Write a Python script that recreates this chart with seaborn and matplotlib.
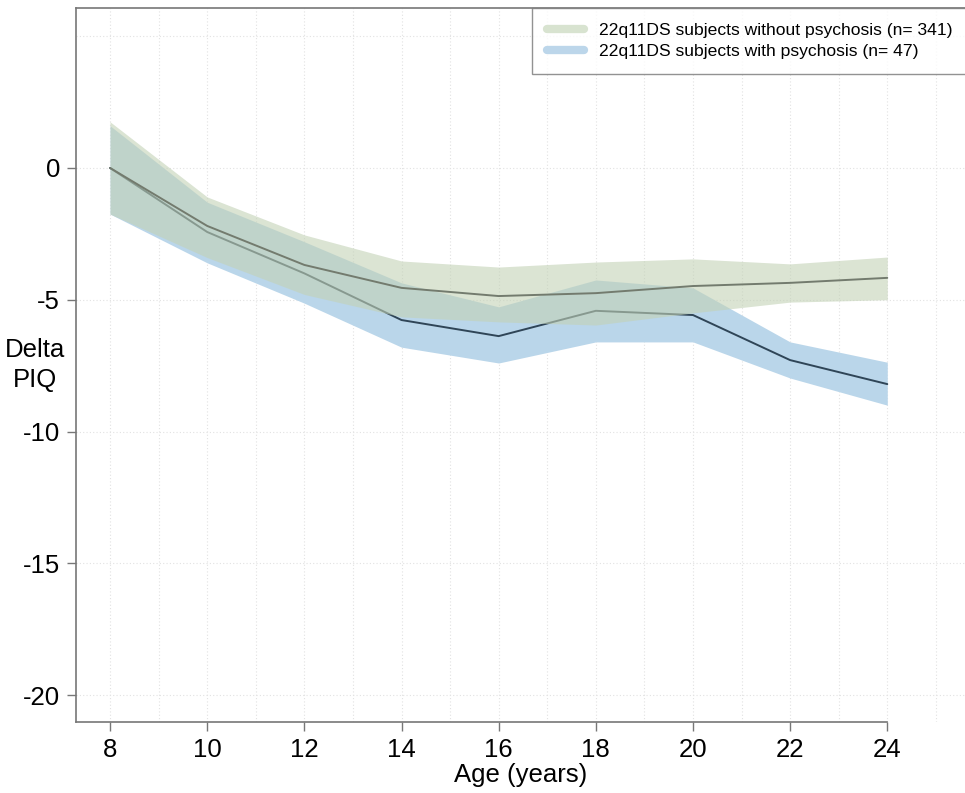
import matplotlib
matplotlib.use("Agg")
import matplotlib.pyplot as plt
import seaborn as sns
import pandas as pd
import numpy as np
from matplotlib.lines import Line2D

ages = [8, 10, 12, 14, 16, 18, 20, 22, 24]

# without psychosis (n=341)
no_psy_mean = [0.0, -2.2, -3.68, -4.55, -4.86, -4.75, -4.48, -4.36, -4.17]
no_psy_upper = [1.75, -1.1, -2.54, -3.53, -3.76, -3.57, -3.45, -3.64, -3.38]
no_psy_lower = [-1.75, -3.4, -4.8, -5.65, -5.84, -5.96, -5.5, -5.09, -5.0]

# with psychosis (n=47)
psy_mean = [0.0, -2.43, -4.0, -5.77, -6.38, -5.42, -5.58, -7.29, -8.2]
psy_upper = [1.6, -1.3, -2.8, -4.36, -5.27, -4.25, -4.55, -6.6, -7.37]
psy_lower = [-1.75, -3.6, -5.13, -6.8, -7.4, -6.6, -6.6, -7.97, -9.0]

label_no = "22q11DS subjects without psychosis (n= 341)"
label_psy = "22q11DS subjects with psychosis (n= 47)"

x_ticks = [8, 10, 12, 14, 16, 18, 20, 22, 24]
y_ticks = [0, -5, -10, -15, -20]

sns.set_style("white")
plt.rcParams["font.family"] = ["Liberation Sans", "DejaVu Sans"]
plt.rcParams["text.color"] = "black"
plt.rcParams["axes.labelcolor"] = "black"
plt.rcParams["xtick.color"] = "black"
plt.rcParams["ytick.color"] = "black"

fig = plt.figure(figsize=(9.65, 7.93), dpi=100)
ax = fig.add_axes([0.0788, 0.0895, 0.9212, 0.9005])

df_psy = pd.DataFrame({"age": ages, "val": psy_mean})
df_no = pd.DataFrame({"age": ages, "val": no_psy_mean})

blue_fill = "#bad6ea"
green_fill = "#c3d2b6"

# grid
for gx in np.arange(8, 27, 1):
    ax.axvline(gx, color="#e2e2e2", lw=0.8, ls=(0, (1, 2)), zorder=0)
for gy in [5, 0, -5, -10, -15, -20]:
    ax.axhline(gy, color="#e2e2e2", lw=0.8, ls=(0, (1, 2)), zorder=0)

ax.fill_between(ages, psy_lower, psy_upper, color=blue_fill, lw=0, zorder=1)
sns.lineplot(data=df_psy, x="age", y="val", ax=ax, color="#2f4557", lw=1.4, zorder=2)
ax.fill_between(ages, no_psy_lower, no_psy_upper, color=green_fill, alpha=0.6, lw=0, zorder=3)
sns.lineplot(data=df_no, x="age", y="val", ax=ax, color="#737b6e", lw=1.4, zorder=4)

ax.set_xlim(7.3, 25.6)
ax.set_ylim(-21.02, 6.07)
ax.set_xticks(x_ticks)
ax.set_yticks(y_ticks)
ax.set_xticklabels([str(t) for t in x_ticks], fontsize=18.5)
ax.set_yticklabels([str(t) for t in y_ticks], fontsize=18.5)
ax.tick_params(axis="both", direction="out", length=6.5, width=1, color="#777777",
               labelcolor="black", pad=5)
ax.tick_params(axis="x", bottom=True)
ax.tick_params(axis="y", left=True)

ax.set_xlabel("Age (years)", fontsize=18.5, labelpad=1, color="black")
ax.set_ylabel("Delta\nPIQ", fontsize=18.5, rotation=0, ha="center", va="center",
              linespacing=1.3, color="black")
ax.yaxis.set_label_coords(-0.046, 0.5)

for s in ["left", "bottom", "top"]:
    ax.spines[s].set_color("#777777")
    ax.spines[s].set_linewidth(1.2)
ax.spines["right"].set_visible(False)
ax.spines["bottom"].set_bounds(7.3, 24)

handles = [Line2D([], [], color="#d8e3d0", lw=6, solid_capstyle="round"),
           Line2D([], [], color="#bcd6ea", lw=6, solid_capstyle="round")]
leg = ax.legend(handles, [label_no, label_psy], loc="upper left",
                bbox_to_anchor=(0.513, 1.0), fontsize=12.6, frameon=True,
                fancybox=False, borderaxespad=0, handlelength=2.1,
                handletextpad=0.85, labelspacing=0.32, borderpad=0.85,
                labelcolor="black")
leg.get_frame().set_edgecolor("#777777")
leg.get_frame().set_linewidth(1.0)
leg.set_zorder(10)

fig.savefig("out.png", dpi=100)
